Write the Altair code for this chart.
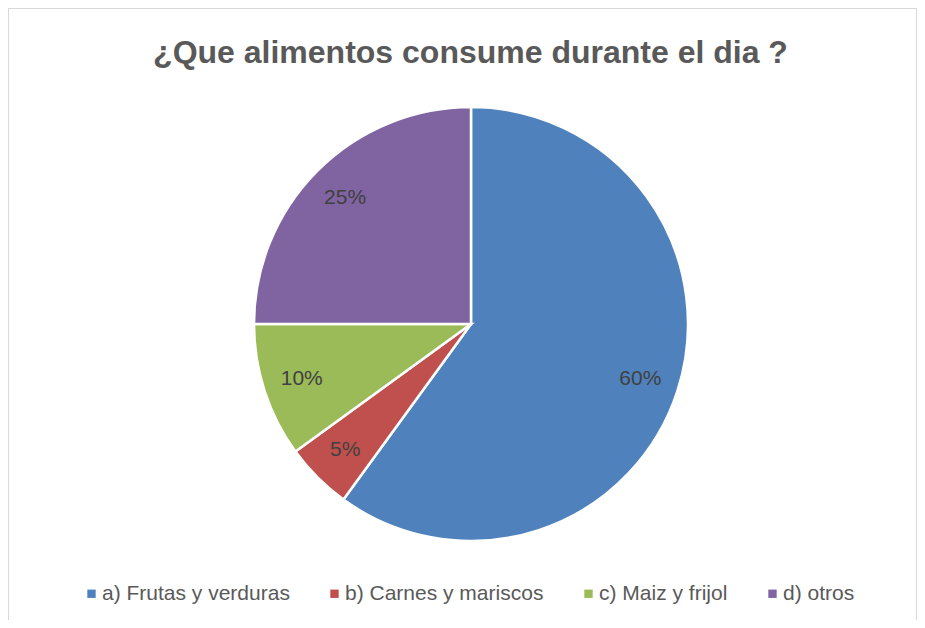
import altair as alt
import pandas as pd

title_text = "¿Que alimentos consume durante el dia ?"
categories = ["a) Frutas y verduras", "b) Carnes y mariscos", "c) Maiz y frijol", "d) otros"]
values = [60, 5, 10, 25]
labels = ["60%", "5%", "10%", "25%"]
colors = ["#4F81BD", "#C0504D", "#9BBB59", "#8064A2"]

df = pd.DataFrame({"cat": categories, "val": values, "lab": labels})

W, H = 909, 612
TOP = 90
CX, CY = 463, 324 - 8 - TOP
R = 217

base = alt.Chart(df).encode(
    theta=alt.Theta("val:Q", stack=True),
    order=alt.Order("cat:N", sort="ascending"),
)

pie = base.mark_arc(x=CX, y=CY, outerRadius=R, stroke="white", strokeWidth=2.5).encode(
    color=alt.Color(
        "cat:N",
        scale=alt.Scale(domain=categories, range=colors),
        legend=alt.Legend(
            title=None,
            orient="none",
            direction="horizontal",
            legendX=73,
            legendY=485,
            columnPadding=34,
            symbolType="square",
            symbolSize=70,
            symbolStrokeWidth=0,
            labelFont="Liberation Sans",
            labelFontSize=21,
            labelColor="#595959",
            labelOffset=0,
            labelLimit=400,
        ),
    )
)

text = base.mark_text(
    x=CX, y=CY, radius=178, fontSize=21, font="Liberation Sans", color="#404040"
).encode(text="lab:N")

title = alt.Chart(pd.DataFrame({"t": [title_text]})).mark_text(
    x=462.5, y=-35, baseline="alphabetic", align="center",
    fontSize=32, fontWeight="bold", font="Liberation Sans", color="#595959"
).encode(text="t:N")

frame = alt.Chart(df).mark_rect(fill=None, stroke="#D9D9D9", strokeWidth=1).encode(
    x=alt.value(0.5), x2=alt.value(W - 0.5), y=alt.value(-TOP + 0.5), y2=alt.value(H + 50)
)

chart = alt.layer(frame, pie, text, title).properties(
    width=W,
    height=H - TOP,
    padding={"top": TOP, "left": 0, "right": 0, "bottom": 0},
    autosize=alt.AutoSizeParams(type="none"),
).configure_view(stroke=None)

chart.save("out.html", embed_options={"renderer": "svg", "actions": False})
